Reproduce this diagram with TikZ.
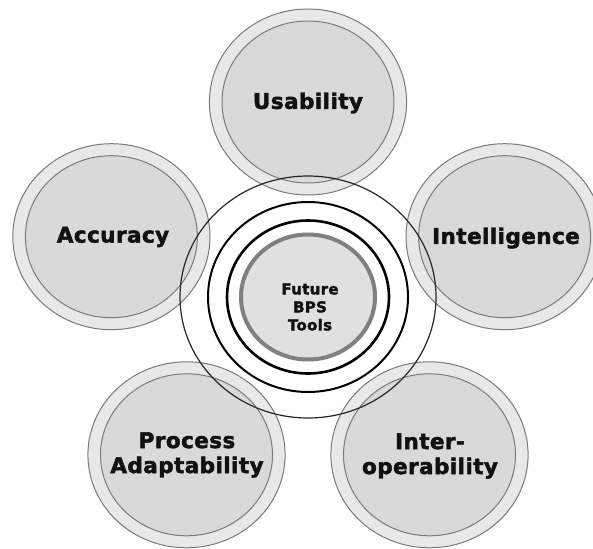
\documentclass[tikz,border=0pt]{standalone}
\usepackage{fontspec}
\newfontfamily\lbl[LetterSpace=2,FakeBold=2.2]{DejaVu Sans Bold}
\definecolor{bandgray}{HTML}{E8E8E8}
\definecolor{fillgray}{HTML}{D9D9D9}
\definecolor{edgegray}{HTML}{7A7A7A}
\definecolor{corefill}{HTML}{E0E0E0}
\definecolor{coreedge}{HTML}{808080}
\definecolor{ink}{HTML}{111111}
\tikzset{
  band/.style={fill=bandgray, draw=edgegray, line width=1pt},
  disc/.style={fill=fillgray, draw=edgegray, line width=1pt},
  satlabel/.style={text=ink, align=center, font=\lbl\fontsize{21.5}{25}\selectfont, inner sep=0pt},
  corelabel/.style={text=ink, align=center, font=\lbl\fontsize{15}{18}\selectfont, inner sep=0pt},
  blackring/.style={draw=black, line width=#1},
}
\begin{document}
\begin{tikzpicture}[x=1pt,y=-1pt]
\useasboundingbox (0,0) rectangle (593,548);
\fill[white] (0,0) rectangle (593,548);
% satellite centres (pentagon)
\coordinate (S1) at (308,102);
\coordinate (S2) at (504.6,236.7);
\coordinate (S3) at (429.5,454.8);
\coordinate (S4) at (186.5,454.8);
\coordinate (S5) at (111.4,236.7);
\coordinate (C) at (308,297);
% satellites
\foreach \s in {S1,S2,S3,S4,S5}{
  \path[band] (\s) ellipse [x radius=98.6pt, y radius=93pt];
  \path[disc] (\s) ellipse [x radius=86pt, y radius=81pt];
}
% centre
\path[fill=corefill, draw=coreedge, line width=4pt] (C) ellipse [x radius=67pt, y radius=62.5pt];
\draw[blackring=2.6pt] (C) ellipse [x radius=81pt, y radius=76.5pt];
\draw[blackring=2pt] (C) ellipse [x radius=100pt, y radius=95pt];
\draw[draw=black!85, line width=1.2pt] (C) ellipse [x radius=128pt, y radius=121pt];
% labels
\node[satlabel] (usab) at (308,103) {Usability};
\node[satlabel] (intel) at (506,238) {Intelligence};
\node[satlabel] (inter) at (430,456) {Inter-\\operability};
\node[satlabel] (proc) at (187,455) {Process\\Adaptability};
\node[satlabel] (acc) at (113,237) {Accuracy};
\node[corelabel] (core) at (310,307) {Future\\BPS\\Tools};
\end{tikzpicture}
\end{document}
